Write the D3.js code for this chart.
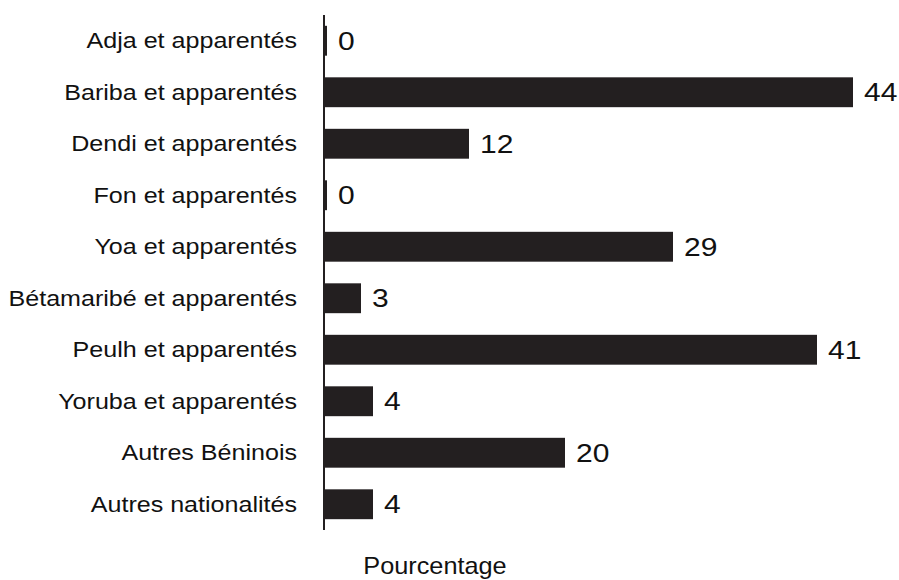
<!DOCTYPE html>
<html>
<head>
<meta charset="utf-8">
<script src="https://cdn.jsdelivr.net/npm/d3@7/dist/d3.min.js"></script>
<style>
  html, body { margin: 0; padding: 0; background: #ffffff; }
  svg { display: block; }
  text { font-family: "Liberation Sans", Arial, Helvetica, sans-serif; fill: #111111; }
</style>
</head>
<body>
<svg id="chart" width="899" height="580"></svg>
<script>
// Ethnic groups and their share (%)
const categories = [
  "Adja et apparentés",
  "Bariba et apparentés",
  "Dendi et apparentés",
  "Fon et apparentés",
  "Yoa et apparentés",
  "Bétamaribé et apparentés",
  "Peulh et apparentés",
  "Yoruba et apparentés",
  "Autres Béninois",
  "Autres nationalités"
];
const values = [0, 44, 12, 0, 29, 3, 41, 4, 20, 4];
const axisTitle = "Pourcentage";

const W = 899, H = 580;
const barColor = "#231f20";

const svg = d3.select("#chart");

const x = d3.scaleLinear()
  .domain([0, d3.max(values)])
  .range([325, 853]);

const y = d3.scaleBand()
  .domain(categories)
  .range([15, 530])
  .paddingInner(0.42)
  .paddingOuter(0.21);

const rows = categories.map((c, i) => ({ cat: c, val: values[i] }));

// bars
svg.append("g")
  .selectAll("rect")
  .data(rows)
  .join("rect")
  .attr("x", x(0))
  .attr("y", d => y(d.cat))
  .attr("width", d => Math.max(x(d.val) - x(0), 2))
  .attr("height", y.bandwidth())
  .attr("fill", barColor);

// vertical category axis line
svg.append("line")
  .attr("x1", 324).attr("x2", 324)
  .attr("y1", y.range()[0]).attr("y2", y.range()[1])
  .attr("stroke", barColor)
  .attr("stroke-width", 2);

// category labels (glyphs slightly widened)
svg.append("g")
  .selectAll("text")
  .data(rows)
  .join("text")
  .attr("transform", d => `translate(297,${y(d.cat) + y.bandwidth() / 2}) scale(1.14,1)`)
  .attr("text-anchor", "end")
  .attr("dy", "0.35em")
  .attr("font-size", 22)
  .text(d => d.cat);

// value labels
svg.append("g")
  .selectAll("text")
  .data(rows)
  .join("text")
  .attr("transform", d => `translate(${Math.max(x(d.val), x(0) + 2) + 11},${y(d.cat) + y.bandwidth() / 2}) scale(1.2,1)`)
  .attr("text-anchor", "start")
  .attr("dy", "0.36em")
  .attr("font-size", 25)
  .text(d => d3.format("d")(d.val));

// axis title
svg.append("text")
  .attr("transform", "translate(435,574) scale(1.1,1)")
  .attr("text-anchor", "middle")
  .attr("font-size", 23)
  .text(axisTitle);
</script>
</body>
</html>
